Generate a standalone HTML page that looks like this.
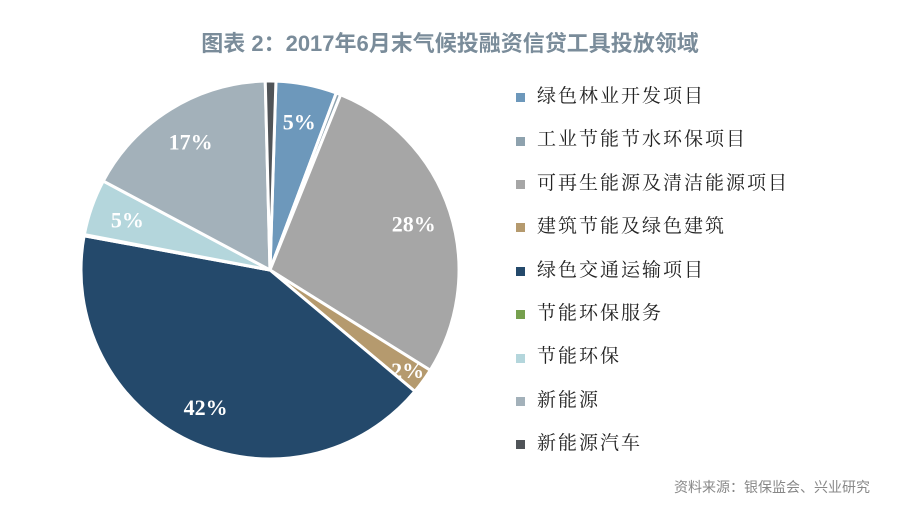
<!DOCTYPE html>
<html><head><meta charset="utf-8">
<style>
body{margin:0;width:900px;height:518px;background:#fff;overflow:hidden;position:relative;font-family:"Liberation Sans","Noto Sans CJK SC",sans-serif}
#title{position:absolute;left:0;width:900px;top:26px;text-align:center;font-size:22px;font-weight:bold;color:#7a8c9a}
#src{position:absolute;right:30px;top:477px;font-size:14px;color:#888}
.leg{position:absolute;left:516px;font-family:"Liberation Serif","Noto Serif CJK SC",serif;font-size:19px;color:#222;letter-spacing:2px}
.sw{display:inline-block;width:9px;height:9px;margin-right:12px;vertical-align:middle}
</style></head><body>
<div id="title">图表 2：2017年6月末气候投融资信贷工具投放领域</div>
<svg id="pie" width="900" height="518" style="position:absolute;left:0;top:0"></svg>
<div id="legend"></div>
<div id="src">资料来源：银保监会、兴业研究</div>
<script>
const categories=["绿色林业开发项目","工业节能节水环保项目","可再生能源及清洁能源项目","建筑节能及绿色建筑","绿色交通运输项目","节能环保服务","节能环保","新能源","新能源汽车"];
const values=[5.2,0.4,27.8,2.2,41.8,0.1,4.8,16.8,0.9];
const labels=["5%","","28%","2%","42%","","5%","17%",""];
const colors=["#6d98bb","#8ea2ae","#a6a6a6","#b59a6e","#24496b","#76a04e","#b4d6dc","#a3b1ba","#505458"];
const cx=270,cy=270,r=189,ns="http://www.w3.org/2000/svg";
const svg=document.getElementById('pie');
const total=values.reduce((a,b)=>a+b,0);
let a0=0.005*2*Math.PI;
function pt(a,rr){return [cx+rr*Math.sin(a),cy-rr*Math.cos(a)];}
values.forEach((v,i)=>{
  const a1=a0+v/total*2*Math.PI;
  const p0=pt(a0,r),p1=pt(a1,r);
  const path=document.createElementNS(ns,'path');
  path.setAttribute('d',`M${cx},${cy}L${p0[0]},${p0[1]}A${r},${r} 0 ${a1-a0>Math.PI?1:0} 1 ${p1[0]},${p1[1]}Z`);
  path.setAttribute('fill',colors[i]);path.setAttribute('stroke','#fff');path.setAttribute('stroke-width','3');
  
  
  svg.appendChild(path);
  if(labels[i]){
    const m=(a0+a1)/2;const rr=v<3?r*0.9:r*0.8;const p=pt(m,rr);
    const t=document.createElementNS(ns,'text');
    t.setAttribute('x',p[0]);t.setAttribute('y',p[1]+8);t.setAttribute('text-anchor','middle');
    t.setAttribute('fill','#fff');t.setAttribute('font-size','22');t.setAttribute('font-weight','bold');t.setAttribute('font-family','Liberation Serif, serif');
    t.textContent=labels[i];
    
    
    svg.appendChild(t);
  }
  a0=a1;
});
const leg=document.getElementById('legend');
categories.forEach((c,i)=>{
  const d=document.createElement('div');d.className='leg';d.style.top=(81+i*43.4)+'px';
  d.innerHTML=`<span class="sw" style="background:${colors[i]}"></span>${c}`;
  
  
  leg.appendChild(d);
});
</script>
</body></html>
